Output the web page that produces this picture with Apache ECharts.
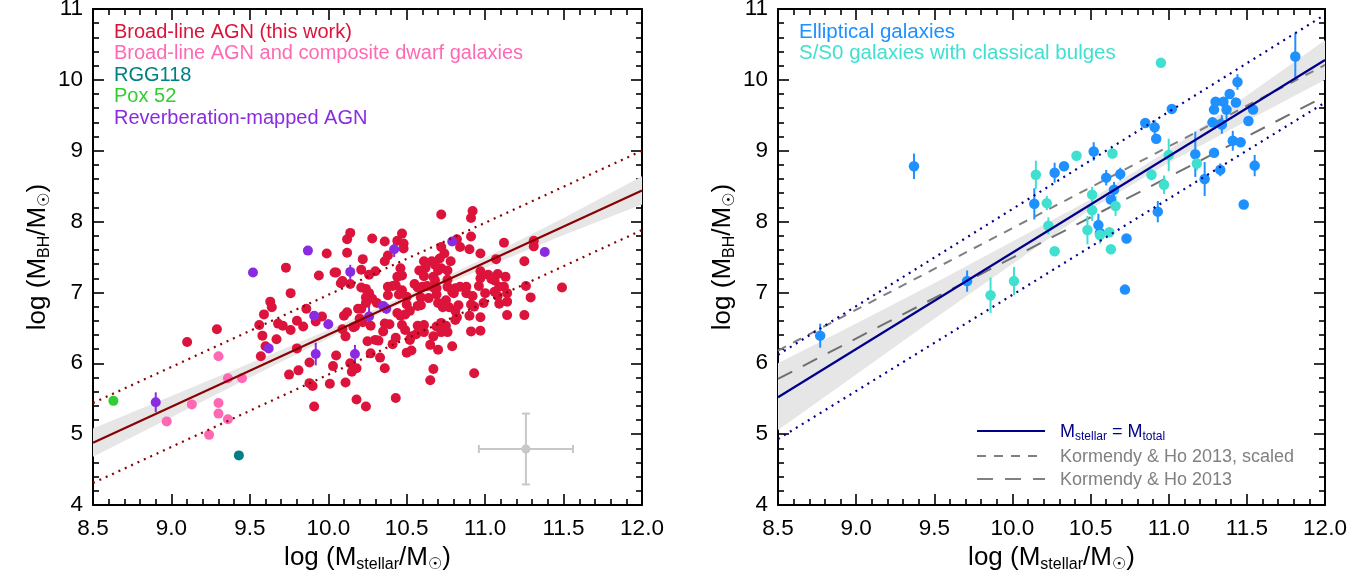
<!DOCTYPE html>
<html><head><meta charset="utf-8">
<script src="https://cdn.jsdelivr.net/npm/echarts/dist/echarts.min.js"></script>
<style>html,body{margin:0;padding:0;background:#fff}#c{width:1369px;height:581px}</style>
</head><body><div id="c"></div>
<script>
const FONT = '"Liberation Sans", Arial, Helvetica, sans-serif';
const SFONT = '"Liberation Sans", "DejaVu Sans", sans-serif';

// ---------- tick labels ----------
const xTickLabels = ['8.5','9.0','9.5','10.0','10.5','11.0','11.5','12.0'];
const yTickLabels = ['4','5','6','7','8','9','10','11'];

// ---------- left panel data ----------
const broadLineAGN = [
[10.72,8.10],[10.92,8.15],[10.91,8.05],
[10.14,7.84],[10.12,7.75],[10.28,7.76],[10.36,7.72],[10.47,7.83],[10.44,7.73],[10.48,7.69],[10.48,7.62],[10.91,7.79],[10.82,7.75],[10.84,7.64],[10.90,7.61],[10.72,7.64],[10.74,7.55],
[9.99,7.55],[10.12,7.56],[10.97,7.55],[11.07,7.47],[11.12,7.70],
[9.73,7.35],[9.94,7.24],[10.04,7.28],[10.05,7.28],[10.22,7.47],[10.21,7.32],[10.26,7.25],[10.30,7.30],[10.36,7.44],[10.38,7.52],[10.46,7.34],[10.44,7.22],[10.47,7.24],[10.61,7.44],[10.66,7.44],[10.71,7.48],[10.68,7.39],[10.62,7.35],[10.70,7.31],[10.78,7.44],[10.72,7.34],[10.76,7.31],[10.76,7.18],[10.58,7.31],[10.61,7.23],[10.67,7.22],[10.68,7.17],[10.97,7.30],[11.02,7.25],[10.97,7.20],[10.96,7.09],[11.04,7.19],[11.08,7.26],[11.06,7.17],[11.09,7.08],[11.06,7.01],[11.12,7.08],[11.13,7.22],
[10.08,7.13],[10.09,7.16],[10.14,7.12],[10.21,7.07],[10.24,7.05],[10.26,6.99],[10.24,6.93],[10.38,7.08],[10.41,7.09],[10.43,7.10],[10.47,7.03],[10.55,7.12],[10.57,7.07],[10.60,7.08],[10.63,7.09],[10.67,7.07],[10.69,7.06],[10.76,7.08],[10.81,7.06],[10.80,6.99],[10.84,7.08],[10.88,7.08],[10.88,6.99],[10.92,6.95],[11.00,6.99],[11.08,6.95],[11.14,6.99],
[9.76,6.99],[9.63,6.87],[9.64,6.79],[9.86,6.77],[9.59,6.69],[9.56,6.54],[9.68,6.56],[9.71,6.53],[9.80,6.60],[9.84,6.52],[9.76,6.47],[9.92,6.59],[9.96,6.66],[10.10,6.67],[10.12,6.72],[10.19,6.77],[10.21,6.77],[10.20,6.63],[10.17,6.52],[10.24,6.85],[10.28,6.91],[10.31,6.85],[10.38,6.96],[10.45,6.97],[10.50,6.94],[10.50,6.83],[10.52,6.74],[10.57,6.81],[10.59,6.93],[10.64,6.92],[10.59,6.82],[10.69,6.97],[10.70,6.85],[10.75,6.89],[10.79,7.01],[10.73,6.79],[10.77,6.79],[10.83,6.82],[10.91,6.83],[10.93,6.80],[10.99,6.85],[11.09,6.84],[11.14,6.87],
[9.58,6.39],[9.67,6.34],[9.57,6.10],[9.60,6.24],[9.80,6.21],[10.05,6.11],[10.09,6.48],[10.11,6.38],[10.16,6.51],[10.22,6.58],[10.27,6.53],[10.36,6.56],[10.39,6.55],[10.35,6.45],[10.32,6.32],[10.30,6.33],[10.25,6.31],[10.41,6.27],[10.43,6.36],[10.46,6.67],[10.44,6.71],[10.49,6.69],[10.47,6.54],[10.49,6.47],[10.53,6.38],[10.52,6.33],[10.57,6.53],[10.61,6.54],[10.61,6.44],[10.56,6.41],[10.69,6.52],[10.72,6.57],[10.75,6.53],[10.81,6.61],[10.82,6.65],[10.76,6.44],[10.72,6.44],[10.67,6.38],[10.65,6.26],[10.70,6.19],[10.79,6.24],[10.81,6.74],[10.90,6.67],[10.97,6.65],[10.91,6.45],[10.97,6.46],[11.14,6.68],
[9.75,5.84],[9.81,5.90],[9.88,6.01],[9.88,5.72],[9.90,5.68],[10.01,5.71],[10.03,5.96],[10.11,5.73],[10.14,6.00],[10.15,5.88],[10.18,5.93],[10.27,6.14],[10.33,6.08],[10.36,5.93],[10.50,6.15],[10.53,6.18],[10.67,5.92],[10.65,5.76],[10.93,5.86],[10.18,5.49],[10.43,5.51],
[9.10,6.30],[9.29,6.48],[9.91,5.39],[10.24,5.39],
[11.31,7.73],[11.31,7.65],[11.25,7.44],[11.26,7.09],[11.29,6.93],[11.25,6.68],[11.49,7.07]
];
const dwarfAGN = [[9.30,6.10],[9.36,5.79],[9.45,5.79],[9.13,5.42],[9.30,5.44],[8.97,5.18],[9.30,5.29],[9.36,5.21],[9.24,4.99]];
const rgg118 = [[9.43,4.70]];
const pox52 = [[8.63,5.47]];
// [x, y, error]
const rmAGN = [[8.90,5.45,0.14],[9.52,7.28,0.04],[9.87,7.59,0.05],[9.62,6.21,0.06],[9.91,6.67,0.03],[10.00,6.55,0.07],[9.92,6.13,0.16],[10.14,7.29,0.10],[10.17,6.13,0.13],[10.26,6.66,0.15],[10.35,6.81,0.05],[10.37,6.77,0.07],[10.42,7.61,0.11],[10.79,7.72,0.03],[11.38,7.57,0.03]];
const leftFit = [[8.5,4.88],[12.0,8.44]];
const leftUpper = [[8.5,5.44],[12.0,9.00]];
const leftLower = [[8.5,4.31],[12.0,7.88]];
const leftBandX  = [8.5,9.0,9.5,10.0,10.5,11.0,11.5,12.0];
const leftBandLo = [4.68,5.24,5.80,6.35,6.88,7.35,7.81,8.24];
const leftBandHi = [5.08,5.54,6.00,6.47,6.96,7.49,8.05,8.64];
const typicalError = [[11.26,4.79,0.30,0.50]]; // x, y, xerr, yerr

// ---------- right panel data ----------
const ellipticals = [[9.37,8.78,0.18],[9.71,7.16,0.15],[10.14,8.25,0.22],[10.27,8.69,0.14],[10.33,8.78,0.04],[10.52,8.99,0.13],[10.60,8.62,0.11],[10.69,8.67,0.09],[10.55,7.95,0.16],[10.56,7.84,0.05],[10.65,8.45,0.11],[10.63,8.31,0.05],[10.73,7.76,0.06],[10.72,7.04,0.03],[10.85,9.39,0.03],[10.91,9.33,0.10],[10.92,9.17,0.03],[10.93,8.14,0.15],[11.02,9.59,0.05],[11.17,8.95,0.32],[11.23,8.60,0.24],[11.28,9.40,0.05],[11.29,9.58,0.05],[11.30,9.69,0.06],[11.29,8.97,0.04],[11.33,8.73,0.09],[11.34,9.37,0.13],[11.35,9.69,0.05],[11.37,9.58,0.14],[11.39,9.80,0.04],[11.41,9.14,0.14],[11.43,9.68,0.04],[11.44,9.97,0.11],[11.46,9.12,0.04],[11.48,8.24,0.05],[11.51,9.42,0.04],[11.54,9.58,0.04],[11.55,8.79,0.15],[11.81,10.33,0.33],[8.77,6.39,0.17]];
const classicalBulges = [[10.15,8.66,0.20],[10.22,8.26,0.10],[10.23,7.94,0.12],[10.27,7.58,0.03],[10.41,8.93,0.03],[10.64,8.96,0.06],[10.51,8.38,0.11],[10.51,8.16,0.15],[10.48,7.88,0.20],[10.56,7.81,0.12],[10.62,7.85,0.03],[10.63,7.61,0.03],[10.66,8.22,0.14],[10.89,8.66,0.08],[10.97,8.52,0.13],[11.00,8.94,0.23],[11.18,8.82,0.10],[10.95,10.24,0.06],[9.86,6.96,0.25],[10.01,7.16,0.20]];
const rightFit = [[8.5,5.52],[12.0,10.28]];
const rightUpper = [[8.5,6.12],[12.0,10.92]];
const rightLower = [[8.5,4.93],[12.0,9.68]];
const khScaled = [[8.5,6.18],[12.0,10.21]];
const kh2013 = [[8.5,5.78],[12.0,9.77]];
const rightBandX  = [8.5,9.0,9.5,10.0,10.5,11.0,11.5,12.0];
const rightBandLo = [5.06,5.84,6.63,7.40,8.17,8.83,9.42,10.00];
const rightBandHi = [6.00,6.56,7.13,7.72,8.31,9.01,9.78,10.56];

// ---------- legend text ----------
const leftLegend = ['Broad-line AGN (this work)','Broad-line AGN and composite dwarf galaxies','RGG118','Pox 52','Reverberation-mapped AGN'];
const leftLegendColors = ['#DC143C','#FF69B4','#008080','#32CD32','#8A2BE2'];
const rightLegend = ['Elliptical galaxies','S/S0 galaxies with classical bulges'];
const rightLegendColors = ['#1E90FF','#40E0D0'];
const lineLegend = ['{m|M}{s|stellar}{m| = M}{s|total}','Kormendy & Ho 2013, scaled','Kormendy & Ho 2013'];

const xMin = +xTickLabels[0], xMax = +xTickLabels[xTickLabels.length-1];
const yMin = +yTickLabels[0], yMax = +yTickLabels[yTickLabels.length-1];

const nameRich = {
  t: {fontSize: 26, fontFamily: FONT, color: '#000'},
  s: {fontSize: 16, fontFamily: SFONT, color: '#000', padding: [14,0,0,0]}
};
const xName = '{t|log (M}{s|stellar}{t|/M}{s|\u2609}{t|)}';
const yName = '{t|log (M}{s|BH}{t|/M}{s|\u2609}{t|)}';

function xAxis(grid, top) {
  return {
    gridIndex: grid, type: 'value', min: xMin, max: xMax, interval: 0.5,
    position: top ? 'top' : 'bottom',
    axisLine: {show: true, onZero: false, lineStyle: {color: '#000', width: 2}},
    axisTick: {show: true, inside: true, length: 11, lineStyle: {color: '#000', width: 1.6}},
    minorTick: {show: true, splitNumber: 5, length: 6, lineStyle: {color: '#000', width: 1.6}},
    splitLine: {show: false}, minorSplitLine: {show: false},
    axisLabel: {show: !top, fontSize: 22.5, color: '#000', fontFamily: FONT, margin: 12,
      formatter: v => xTickLabels.find(s => Math.abs(+s - v) < 1e-6) || ''},
    name: top ? '' : xName, nameLocation: 'middle', nameGap: 38,
    nameTextStyle: {rich: nameRich}
  };
}
function yAxis(grid, right) {
  return {
    gridIndex: grid, type: 'value', min: yMin, max: yMax, interval: 1,
    position: right ? 'right' : 'left',
    axisLine: {show: true, onZero: false, lineStyle: {color: '#000', width: 2}},
    axisTick: {show: true, inside: true, length: 11, lineStyle: {color: '#000', width: 1.6}},
    minorTick: {show: true, splitNumber: 5, length: 6, lineStyle: {color: '#000', width: 1.6}},
    splitLine: {show: false}, minorSplitLine: {show: false},
    axisLabel: {show: !right, fontSize: 22.5, color: '#000', fontFamily: FONT, margin: 10,
      formatter: v => yTickLabels.find(s => Math.abs(+s - v) < 1e-6) || ''},
    name: right ? '' : yName, nameLocation: 'middle', nameGap: 40,
    nameTextStyle: {rich: nameRich}
  };
}

function band(ax, xs, lo, hi) {
  return {type: 'custom', xAxisIndex: ax, yAxisIndex: ax, z: 1, silent: true,
    data: [[xs[0], lo[0]]],
    renderItem(params, api) {
      const pts = [];
      for (let i = 0; i < xs.length; i++) pts.push(api.coord([xs[i], hi[i]]));
      for (let i = xs.length - 1; i >= 0; i--) pts.push(api.coord([xs[i], lo[i]]));
      return {type: 'polygon', shape: {points: pts}, style: {fill: '#e6e6e6'}};
    }};
}
function line(ax, data, color, type, width, z) {
  return {type: 'line', xAxisIndex: ax, yAxisIndex: ax, data, showSymbol: false, symbol: 'none',
    silent: true, z: z || 6, lineStyle: {color, width: width || 2, type: type || 'solid'}};
}
function scatter(ax, data, color, size, z) {
  return {type: 'scatter', xAxisIndex: ax, yAxisIndex: ax, data: data.map(d => [d[0], d[1]]),
    symbol: 'circle', symbolSize: size, itemStyle: {color, opacity: 1}, z: z || 4, silent: true};
}
function errBars(ax, data, color) {
  return {type: 'custom', xAxisIndex: ax, yAxisIndex: ax, z: 3, silent: true,
    data: data,
    renderItem(params, api) {
      const x = api.value(0), y = api.value(1), e = api.value(2);
      const a = api.coord([x, y - e]), b = api.coord([x, y + e]);
      return {type: 'line', shape: {x1: a[0], y1: a[1], x2: b[0], y2: b[1]}, style: {stroke: color, lineWidth: 2}};
    }};
}
const crossSeries = {type: 'custom', xAxisIndex: 0, yAxisIndex: 0, z: 3, silent: true,
  data: typicalError,
  renderItem(params, api) {
    const x = api.value(0), y = api.value(1), ex = api.value(2), ey = api.value(3);
    const c = api.coord([x, y]), l = api.coord([x - ex, y]), r = api.coord([x + ex, y]);
    const t = api.coord([x, y + ey]), b = api.coord([x, y - ey]);
    const st = {stroke: '#c8c8c8', lineWidth: 2};
    const cap = 4;
    return {type: 'group', children: [
      {type: 'line', shape: {x1: l[0], y1: l[1], x2: r[0], y2: r[1]}, style: st},
      {type: 'line', shape: {x1: t[0], y1: t[1], x2: b[0], y2: b[1]}, style: st},
      {type: 'line', shape: {x1: l[0], y1: l[1]-cap, x2: l[0], y2: l[1]+cap}, style: st},
      {type: 'line', shape: {x1: r[0], y1: r[1]-cap, x2: r[0], y2: r[1]+cap}, style: st},
      {type: 'line', shape: {x1: t[0]-cap, y1: t[1], x2: t[0]+cap, y2: t[1]}, style: st},
      {type: 'line', shape: {x1: b[0]-cap, y1: b[1], x2: b[0]+cap, y2: b[1]}, style: st},
      {type: 'circle', shape: {cx: c[0], cy: c[1], r: 4.5}, style: {fill: '#c8c8c8'}}
    ]};
  }};

const graphics = [];
leftLegend.forEach((t, i) => graphics.push({type: 'text', x: 114, y: 32 + i * 21.6,
  style: {text: t, fill: leftLegendColors[i], fontSize: 20, fontFamily: FONT, verticalAlign: 'middle'}}));
rightLegend.forEach((t, i) => graphics.push({type: 'text', x: 799, y: 32 + i * 21.6,
  style: {text: t, fill: rightLegendColors[i], fontSize: 20.5, fontFamily: FONT, verticalAlign: 'middle'}}));
const lgY = [431, 456, 479];
const lgStyle = [
  {stroke: '#00008B', lineWidth: 2},
  {stroke: '#808080', lineWidth: 2, lineDash: [9, 8]},
  {stroke: '#808080', lineWidth: 2, lineDash: [16, 12]}
];
lgY.forEach((y, i) => {
  graphics.push({type: 'line', shape: {x1: 977, y1: y, x2: 1045, y2: y}, style: lgStyle[i]});
  graphics.push({type: 'text', x: 1060, y: y + 1, style: {
    text: lineLegend[i], fill: i === 0 ? '#00008B' : '#808080', fontSize: 18, fontFamily: FONT, verticalAlign: 'middle',
    rich: {m: {fontSize: 18, fontFamily: FONT, fill: '#00008B'}, s: {fontSize: 12, fontFamily: FONT, fill: '#00008B', padding: [9,0,0,0]}}}});
});

const option = {
  animation: false,
  backgroundColor: '#fff',
  grid: [
    {left: 93, right: 727, top: 9, bottom: 76, outerBoundsMode: 'none', containLabel: false},
    {left: 778, right: 44, top: 9, bottom: 76, outerBoundsMode: 'none', containLabel: false}
  ],
  xAxis: [xAxis(0, false), xAxis(1, false), xAxis(0, true), xAxis(1, true)],
  yAxis: [yAxis(0, false), yAxis(1, false), yAxis(0, true), yAxis(1, true)],
  graphic: graphics,
  series: [
    band(0, leftBandX, leftBandLo, leftBandHi),
    scatter(0, broadLineAGN, '#DC143C', 10),
    scatter(0, dwarfAGN, '#FF69B4', 10),
    scatter(0, rgg118, '#008080', 10),
    scatter(0, pox52, '#32CD32', 10),
    errBars(0, rmAGN, '#8A2BE2'),
    scatter(0, rmAGN, '#8A2BE2', 10, 5),
    crossSeries,
    line(0, leftFit, '#8B0000', 'solid', 2.2),
    line(0, leftUpper, '#8B0000', [2, 5], 2.2),
    line(0, leftLower, '#8B0000', [2, 5], 2.2),

    band(1, rightBandX, rightBandLo, rightBandHi),
    line(1, khScaled, '#808080', [9, 8], 2, 2),
    line(1, kh2013, '#707070', [16, 12], 2, 2),
    errBars(1, ellipticals, '#1E90FF'),
    errBars(1, classicalBulges, '#40E0D0'),
    scatter(1, ellipticals, '#1E90FF', 10.5),
    scatter(1, classicalBulges, '#40E0D0', 10.5),
    line(1, rightFit, '#00008B', 'solid', 2.2),
    line(1, rightUpper, '#00008B', [2, 5], 2.2),
    line(1, rightLower, '#00008B', [2, 5], 2.2)
  ]
};
const chart = echarts.init(document.getElementById('c'), null, {renderer: 'canvas'});
chart.setOption(option);
</script></body></html>
